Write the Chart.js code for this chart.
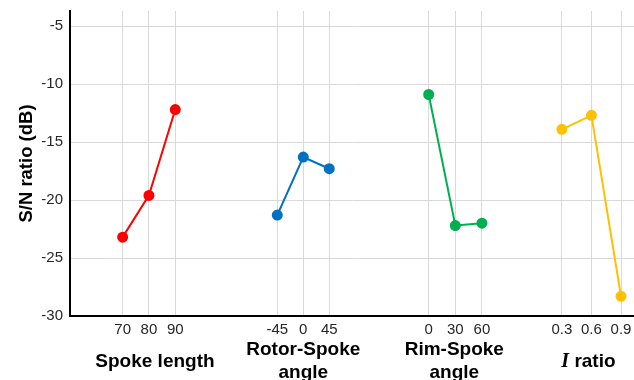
<!DOCTYPE html>
<html>
<head>
<meta charset="utf-8">
<script src="https://cdn.jsdelivr.net/npm/chart.js@4.4.1/dist/chart.umd.min.js"></script>
<style>
  html, body { margin: 0; padding: 0; background: #fff; }
  #wrap { width: 634px; height: 380px; }
</style>
</head>
<body>
<div id="wrap"><canvas id="snChart"></canvas></div>
<script>
// Faktoren und Stufen
const factorNames = [['Spoke length'], ['Rotor-Spoke', 'angle'], ['Rim-Spoke', 'angle'], ['I ratio']];
const levelLabels = [['70', '80', '90'], ['-45', '0', '45'], ['0', '30', '60'], ['0.3', '0.6', '0.9']];

// S/N-Werte (dB) je Faktor
const spokeLength = [-23.2, -19.6, -12.2];
const rotorSpokeAngle = [-21.3, -16.3, -17.3];
const rimSpokeAngle = [-10.9, -22.2, -22.0];
const iRatio = [-13.9, -12.7, -28.3];

const yTicks = [-30, -25, -20, -15, -10, -5];

// Layout der x-Achse (Einheiten der linearen Skala)
const groupStart = [8.1, 31.9, 55.2, 75.7];
const groupStep = [4.05, 4, 4.1, 4.55];
const titleShift = [6, 0, -1, -3];
const xMax = 86.8;
const colors = ['#ff0000', '#0070c0', '#00b050', '#ffc000'];

const seriesValues = [spokeLength, rotorSpokeAngle, rimSpokeAngle, iRatio];

const tickPositions = [];
const tickTexts = [];
levelLabels.forEach((lv, g) => {
    lv.forEach((txt, i) => {
        tickPositions.push(groupStart[g] + i * groupStep[g]);
        tickTexts.push(txt);
    });
});

const datasets = seriesValues.map((vals, g) => ({
    label: factorNames[g].join(' '),
    data: vals.map((v, i) => ({ x: groupStart[g] + i * groupStep[g], y: v })),
    borderColor: colors[g],
    backgroundColor: colors[g],
    borderWidth: 2,
    pointRadius: 4.5,
    pointHoverRadius: 4.5,
    showLine: true,
    tension: 0
}));

const sansBold = 'bold 19px "Liberation Sans", Arial, sans-serif';
const serifItalic = 'italic bold 20px "Liberation Serif", "Times New Roman", serif';

// Gruppentitel unter den Tick-Labels
const groupTitles = {
    id: 'groupTitles',
    afterDraw(chart) {
        const ctx = chart.ctx;
        const xs = chart.scales.x;
        ctx.save();
        ctx.fillStyle = '#000';
        ctx.textBaseline = 'middle';
        factorNames.forEach((lines, g) => {
            const center = groupStart[g] + groupStep[g];
            const cx = xs.getPixelForValue(center) + titleShift[g];
            if (g === 3) {
                // "I" kursiv in Serifenschrift
                const a = 'I', b = ' ratio';
                ctx.font = serifItalic;
                const wa = ctx.measureText(a).width;
                ctx.font = sansBold;
                const wb = ctx.measureText(b).width;
                const x0 = cx - (wa + wb) / 2;
                ctx.textAlign = 'left';
                ctx.font = serifItalic;
                ctx.fillText(a, x0, 362);
                ctx.font = sansBold;
                ctx.fillText(b, x0 + wa, 362);
                return;
            }
            ctx.textAlign = 'center';
            ctx.font = sansBold;
            if (lines.length === 1) {
                ctx.fillText(lines[0], cx, 362);
            } else {
                ctx.fillText(lines[0], cx, 350);
                ctx.fillText(lines[1], cx, 373);
            }
        });
        ctx.restore();
    }
};

new Chart(document.getElementById('snChart'), {
    type: 'scatter',
    data: { datasets: datasets },
    plugins: [groupTitles],
    options: {
        responsive: true,
        maintainAspectRatio: false,
        animation: false,
        layout: { autoPadding: false, padding: { top: 11, right: 0, left: 0, bottom: 0 } },
        plugins: {
            legend: { display: false },
            tooltip: { enabled: false }
        },
        scales: {
            x: {
                type: 'linear',
                min: 0,
                max: xMax,
                afterBuildTicks: (scale) => {
                    scale.ticks = tickPositions.map(v => ({ value: v }));
                },
                afterFit: (scale) => {
                    scale.height = 64;
                    scale.paddingLeft = 0;
                    scale.paddingRight = 0;
                },
                ticks: {
                    autoSkip: false,
                    maxRotation: 0,
                    padding: 5,
                    color: '#262626',
                    font: { family: '"Liberation Sans", Arial, sans-serif', size: 15 },
                    callback: (value, index) => tickTexts[index]
                },
                grid: { color: '#d9d9d9', lineWidth: 1, drawTicks: false },
                border: { color: '#000', width: 2 }
            },
            y: {
                min: -30,
                max: -3.7,
                afterBuildTicks: (scale) => {
                    scale.ticks = yTicks.map(v => ({ value: v }));
                },
                afterFit: (scale) => {
                    scale.width = 70;
                    scale.paddingTop = 0;
                    scale.paddingBottom = 0;
                },
                ticks: {
                    padding: 7,
                    color: '#262626',
                    font: { family: '"Liberation Sans", Arial, sans-serif', size: 15 }
                },
                grid: { color: '#d9d9d9', lineWidth: 1, drawTicks: false },
                border: { color: '#000', width: 2 },
                title: {
                    display: true,
                    text: 'S/N ratio (dB)',
                    color: '#000',
                    padding: { top: 16, bottom: 0 },
                    font: { family: '"Liberation Sans", Arial, sans-serif', size: 18.5, weight: 'bold' }
                }
            }
        }
    }
});
</script>
</body>
</html>
